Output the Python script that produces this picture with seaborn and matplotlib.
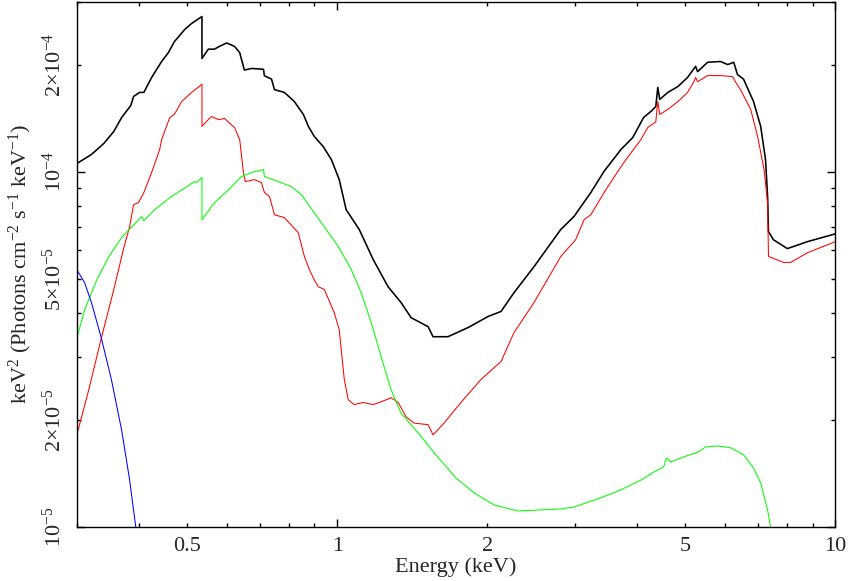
import matplotlib
matplotlib.use("Agg")
import matplotlib.pyplot as plt
import matplotlib.ticker as mticker
import numpy as np
import pandas as pd
import seaborn as sns

# total model (black)
energy_total = [0.300, 0.321, 0.340, 0.356, 0.369, 0.385, 0.390, 0.401, 0.409, 0.424,
                0.444, 0.458, 0.471, 0.494, 0.510, 0.535, 0.535, 0.551, 0.567, 0.580,
                0.600, 0.622, 0.637, 0.651, 0.673, 0.711, 0.714, 0.738, 0.748, 0.783,
                0.820, 0.855, 0.875, 0.899, 0.937, 0.973, 1.009, 1.042, 1.107, 1.181,
                1.265, 1.343, 1.407, 1.522, 1.557, 1.668, 1.831, 2.008, 2.132, 2.263,
                2.370, 2.483, 2.81, 2.986, 3.229, 3.43, 3.71, 3.92, 4.12, 4.26,
                4.36, 4.40, 4.44, 4.61, 4.83, 5.05, 5.24, 5.29, 5.54, 5.88,
                6.08, 6.25, 6.36, 6.54, 6.85, 7.08, 7.24, 7.31, 7.34, 7.51,
                8.01, 8.79, 10.0]
flux_total = [1.053e-4, 1.117e-4, 1.20e-4, 1.297e-4, 1.419e-4, 1.534e-4, 1.626e-4, 1.67e-4, 1.67e-4, 1.84e-4,
              2.04e-4, 2.16e-4, 2.32e-4, 2.51e-4, 2.61e-4, 2.73e-4, 2.08e-4, 2.21e-4, 2.21e-4, 2.25e-4,
              2.30e-4, 2.25e-4, 2.16e-4, 1.93e-4, 1.95e-4, 1.94e-4, 1.86e-4, 1.82e-4, 1.70e-4, 1.67e-4,
              1.574e-4, 1.448e-4, 1.34e-4, 1.256e-4, 1.176e-4, 1.081e-4, 9.5e-5, 7.81e-5, 6.87e-5, 5.65e-5,
              4.74e-5, 4.28e-5, 3.88e-5, 3.66e-5, 3.43e-5, 3.43e-5, 3.64e-5, 3.91e-5, 4.04e-5, 4.56e-5,
              4.96e-5, 5.40e-5, 6.87e-5, 7.47e-5, 8.73e-5, 1.0e-4, 1.153e-4, 1.247e-4, 1.419e-4, 1.475e-4,
              1.524e-4, 1.725e-4, 1.596e-4, 1.67e-4, 1.735e-4, 1.84e-4, 1.977e-4, 1.91e-4, 2.03e-4, 2.04e-4,
              2.00e-4, 2.03e-4, 1.875e-4, 1.82e-4, 1.574e-4, 1.34e-4, 1.081e-4, 8.51e-5, 6.78e-5, 6.43e-5,
              6.07e-5, 6.35e-5, 6.68e-5]

# red component
energy_red = [0.300, 0.317, 0.336, 0.356, 0.372, 0.383, 0.390, 0.399, 0.409, 0.424,
              0.440, 0.444, 0.461, 0.471, 0.487, 0.510, 0.535, 0.535, 0.551, 0.559,
              0.578, 0.594, 0.622, 0.637, 0.648, 0.654, 0.682, 0.704, 0.714, 0.731,
              0.748, 0.783, 0.835, 0.859, 0.879, 0.899, 0.916, 0.942, 0.986, 1.009,
              1.033, 1.052, 1.081, 1.127, 1.181, 1.225, 1.283, 1.325, 1.375, 1.426,
              1.522, 1.557, 1.638, 1.771, 1.943, 2.132, 2.263, 2.483, 2.81, 3.01,
              3.13, 3.229, 3.46, 3.76, 4.07, 4.20, 4.36, 4.40, 4.44, 4.61,
              4.83, 5.05, 5.19, 5.24, 5.29, 5.54, 5.88, 6.22, 6.31, 6.45,
              6.76, 6.98, 7.19, 7.31, 7.34, 7.87, 8.13, 8.79, 10.0]
flux_red = [1.816e-5, 2.43e-5, 3.40e-5, 4.66e-5, 6.03e-5, 7.00e-5, 8.07e-5, 8.18e-5, 8.73e-5, 9.94e-5,
            1.153e-4, 1.23e-4, 1.419e-4, 1.448e-4, 1.574e-4, 1.67e-4, 1.76e-4, 1.34e-4, 1.40e-4, 1.428e-4,
            1.40e-4, 1.41e-4, 1.33e-4, 1.23e-4, 9.94e-5, 9.37e-5, 9.49e-5, 9.31e-5, 8.73e-5, 8.51e-5,
            7.56e-5, 7.42e-5, 6.73e-5, 5.77e-5, 5.30e-5, 4.96e-5, 4.74e-5, 4.66e-5, 4.01e-5, 3.59e-5,
            2.60e-5, 2.28e-5, 2.21e-5, 2.24e-5, 2.21e-5, 2.25e-5, 2.31e-5, 2.24e-5, 2.04e-5, 1.96e-5,
            1.94e-5, 1.816e-5, 1.96e-5, 2.24e-5, 2.60e-5, 2.92e-5, 3.52e-5, 4.28e-5, 5.77e-5, 6.43e-5,
            7.32e-5, 7.56e-5, 8.89e-5, 1.06e-4, 1.23e-4, 1.33e-4, 1.38e-4, 1.574e-4, 1.448e-4, 1.496e-4,
            1.574e-4, 1.67e-4, 1.782e-4, 1.84e-4, 1.79e-4, 1.862e-4, 1.862e-4, 1.85e-4, 1.782e-4, 1.70e-4,
            1.496e-4, 1.256e-4, 1.013e-4, 8.18e-5, 5.77e-5, 5.55e-5, 5.55e-5, 5.91e-5, 6.35e-5]

# green component
energy_green = [0.300, 0.311, 0.329, 0.348, 0.369, 0.387, 0.405, 0.409, 0.430, 0.465,
                0.517, 0.522, 0.535, 0.535, 0.567, 0.605, 0.642, 0.673, 0.711, 0.714,
                0.762, 0.809, 0.847, 0.875, 0.929, 1.005, 1.067, 1.117, 1.170, 1.225,
                1.283, 1.343, 1.453, 1.564, 1.731, 1.882, 2.065, 2.305, 2.81, 2.986,
                3.38, 3.71, 4.07, 4.32, 4.52, 4.58, 4.67, 4.96, 5.31, 5.49,
                5.81, 6.17, 6.54, 6.85, 7.08, 7.31, 7.41, 7.50]
flux_green = [3.40e-5, 4.08e-5, 4.96e-5, 5.77e-5, 6.52e-5, 7.00e-5, 7.47e-5, 7.28e-5, 7.81e-5, 8.51e-5,
              9.37e-5, 9.31e-5, 9.62e-5, 7.32e-5, 8.18e-5, 8.89e-5, 9.68e-5, 9.94e-5, 1.013e-4, 9.68e-5,
              9.37e-5, 9.07e-5, 8.61e-5, 8.07e-5, 7.18e-5, 6.15e-5, 5.30e-5, 4.56e-5, 3.76e-5, 3.01e-5,
              2.43e-5, 2.09e-5, 1.84e-5, 1.62e-5, 1.374e-5, 1.247e-5, 1.153e-5, 1.109e-5, 1.124e-5, 1.138e-5,
              1.208e-5, 1.272e-5, 1.355e-5, 1.428e-5, 1.475e-5, 1.563e-5, 1.524e-5, 1.574e-5, 1.626e-5, 1.68e-5,
              1.69e-5, 1.67e-5, 1.596e-5, 1.466e-5, 1.33e-5, 1.117e-5, 1.0e-5, 0.9e-5]

# blue component
energy_blue = [0.300, 0.311, 0.321, 0.336, 0.352, 0.369, 0.383, 0.394, 0.398]
flux_blue = [5.30e-5, 4.87e-5, 4.28e-5, 3.40e-5, 2.60e-5, 1.875e-5, 1.355e-5, 1.0e-5, 0.9e-5]

x_labels = {0.5: "0.5", 1: "1", 2: "2", 5: "5", 10: "10"}
y_labels = {1e-5: r"$10^{-5}$", 2e-5: r"$2{\times}10^{-5}$", 5e-5: r"$5{\times}10^{-5}$",
            1e-4: r"$10^{-4}$", 2e-4: r"$2{\times}10^{-4}$"}

sns.set_style("ticks")
plt.rcParams["font.family"] = ["Liberation Serif", "DejaVu Serif"]
plt.rcParams["mathtext.fontset"] = "custom"
plt.rcParams["mathtext.rm"] = "Liberation Serif"
plt.rcParams["mathtext.it"] = "Liberation Serif:italic"
plt.rcParams["mathtext.bf"] = "Liberation Serif:bold"
plt.rcParams["axes.linewidth"] = 1.0

fig, ax = plt.subplots(figsize=(8.63, 5.81), dpi=100)
fig.subplots_adjust(left=0.089, right=0.968, bottom=0.093, top=0.9966)
ax.set_xscale("log")
ax.set_yscale("log")

curves = [(energy_total, flux_total, "black", 1.15),
          (energy_red, flux_red, "#ff0000", 0.75),
          (energy_green, flux_green, "#00ff00", 0.75),
          (energy_blue, flux_blue, "#0000ff", 0.75)]
for e, f, c, lw in curves:
    sns.lineplot(x=e, y=f, color=c, linewidth=lw, estimator=None, sort=False, ax=ax)

ax.set_xlim(0.3, 10)
ax.set_ylim(1e-5, 3e-4)


def pick(labels):
    def fmt(v, pos):
        for k, s in labels.items():
            if abs(v - k) / k < 1e-6:
                return s
        return ""
    return mticker.FuncFormatter(fmt)


ax.xaxis.set_major_locator(mticker.FixedLocator([1, 10]))
ax.xaxis.set_minor_locator(mticker.FixedLocator([0.3, 0.4, 0.5, 0.6, 0.7, 0.8, 0.9,
                                                 2, 3, 4, 5, 6, 7, 8, 9]))
ax.xaxis.set_major_formatter(pick(x_labels))
ax.xaxis.set_minor_formatter(pick(x_labels))
ax.yaxis.set_major_locator(mticker.FixedLocator([1e-5, 1e-4]))
ax.yaxis.set_minor_locator(mticker.FixedLocator([2e-5, 3e-5, 4e-5, 5e-5, 6e-5, 7e-5, 8e-5, 9e-5,
                                                 2e-4, 3e-4]))
ax.yaxis.set_major_formatter(pick(y_labels))
ax.yaxis.set_minor_formatter(pick(y_labels))

ax.tick_params(which="both", direction="in", top=True, right=True, width=1.0,
               labelsize=16, color="black")
ax.tick_params(which="major", length=6)
ax.tick_params(which="minor", length=3)
ax.tick_params(axis="x", which="both", pad=7)
ax.tick_params(axis="y", which="both", pad=8, labelrotation=90)
for lab in ax.get_yticklabels(which="both"):
    lab.set_va("center")

ax.set_xlabel("Energy (keV)", fontsize=16, labelpad=1)
ax.set_ylabel(r"keV$^2$ (Photons cm$^{-2}$ s$^{-1}$ keV$^{-1}$)", fontsize=16, labelpad=6)
for s in ax.spines.values():
    s.set_color("black")

fig.savefig("out.png", dpi=100)
